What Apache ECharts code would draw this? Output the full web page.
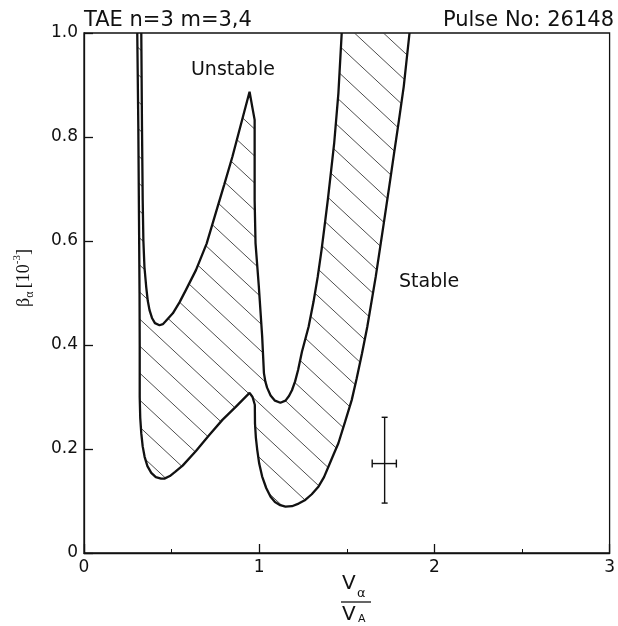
<!DOCTYPE html>
<html><head><meta charset="utf-8">
<script src="https://cdn.jsdelivr.net/npm/echarts@6/dist/echarts.min.js"></script>
<style>html,body{margin:0;padding:0;background:#fff}#c{width:618px;height:626px}</style>
</head><body><div id="c"></div>
<script>
// ---- data ----
const xTickValues = [0, 1, 2, 3];
const yTickValues = [0, 0.2, 0.4, 0.6, 0.8, 1.0];
const yTickLabels = ['0', '0.2', '0.4', '0.6', '0.8', '1.0'];

// lower (stable-side) boundary, from top-left to top-right
const lowerX = [0.304,0.310,0.314,0.317,0.318,0.318,0.321,0.327,0.335,0.346,0.362,0.384,0.410,0.440,0.459,0.490,0.520,0.563,0.639,0.715,0.790,0.866,0.904,0.945,0.962,0.975,0.976,0.981,0.989,1.000,1.017,1.040,1.065,1.090,1.120,1.150,1.187,1.225,1.263,1.300,1.339,1.370,1.395,1.425,1.452,1.490,1.528,1.556,1.587,1.617,1.665,1.711,1.742,1.770,1.798,1.825,1.858];
const lowerY = [1.000,0.820,0.640,0.500,0.400,0.300,0.260,0.230,0.205,0.185,0.167,0.154,0.146,0.143,0.143,0.148,0.156,0.168,0.196,0.227,0.256,0.281,0.294,0.308,0.300,0.285,0.249,0.222,0.198,0.172,0.147,0.125,0.108,0.098,0.092,0.089,0.090,0.095,0.102,0.113,0.128,0.146,0.166,0.190,0.211,0.252,0.294,0.335,0.384,0.435,0.531,0.634,0.704,0.769,0.833,0.897,1.000];

// upper (unstable-side) boundary, from top-left to top-right
const upperX = [0.327,0.331,0.335,0.339,0.345,0.355,0.364,0.374,0.388,0.405,0.431,0.450,0.467,0.507,0.545,0.582,0.639,0.700,0.762,0.800,0.847,0.894,0.945,0.962,0.974,0.974,0.974,0.979,0.998,1.017,1.027,1.035,1.045,1.065,1.090,1.121,1.150,1.170,1.187,1.205,1.222,1.244,1.282,1.310,1.334,1.356,1.374,1.392,1.411,1.428,1.452,1.471];
const upperY = [1.000,0.820,0.680,0.600,0.550,0.512,0.485,0.467,0.452,0.442,0.438,0.440,0.446,0.461,0.482,0.506,0.544,0.595,0.665,0.708,0.762,0.822,0.887,0.855,0.833,0.813,0.679,0.596,0.512,0.416,0.346,0.330,0.318,0.303,0.293,0.289,0.293,0.302,0.313,0.330,0.352,0.387,0.435,0.483,0.531,0.583,0.631,0.680,0.737,0.788,0.884,1.000];

// error bar
const errCenterX = [1.716];
const errCenterY = [0.172];
const errXLow = [1.645];
const errXHigh = [1.783];
const errYLow = [0.096];
const errYHigh = [0.261];

// annotations
const annText = ['Unstable', 'Stable'];
const annX = [0.85, 1.97];
const annY = [0.929, 0.521];

const titleLeftText = 'TAE n=3 m=3,4';
const titleRightText = 'Pulse No: 26148';

// ---- rendering ----
const INK = '#111111';
const SANS = '"DejaVu Sans", "Liberation Sans", Arial, sans-serif';
const SERIF = '"Liberation Serif", "Times New Roman", serif';

function makeHatch() {
  const w = 29, h = 27;
  const c = document.createElement('canvas');
  c.width = w; c.height = h;
  const g = c.getContext('2d');
  g.strokeStyle = '#3a3a3a';
  g.lineWidth = 0.9;
  for (const dy of [-h, 0, h]) {
    g.beginPath();
    g.moveTo(-2, dy - 2 * h / w);
    g.lineTo(w + 2, dy + h + 2 * h / w);
    g.stroke();
  }
  return c;
}
const hatch = makeHatch();

const chart = echarts.init(document.getElementById('c'), null, { renderer: 'canvas' });

const axisCommon = {
  type: 'value',
  axisLine: { show: true, lineStyle: { color: INK, width: 1.3 } },
  axisTick: { show: true, inside: true, length: 9, lineStyle: { color: INK, width: 1.3 } },
  splitLine: { show: false },
  axisLabel: { fontSize: 17, color: INK, fontFamily: SANS }
};

const option = {
  animation: false,
  backgroundColor: '#fff',
  title: [
    { text: titleLeftText, left: 84, top: 10, textStyle: { fontSize: 21, fontWeight: 'normal', color: INK, fontFamily: SANS }, padding: 0 },
    { text: titleRightText, right: 4, top: 10, textStyle: { fontSize: 21, fontWeight: 'normal', color: INK, fontFamily: SANS }, padding: 0 }
  ],
  grid: { left: 84, right: 5, top: 33, bottom: 73, show: true, borderColor: INK, borderWidth: 1.3, backgroundColor: 'transparent' },
  xAxis: Object.assign({}, axisCommon, {
    min: xTickValues[0], max: xTickValues[xTickValues.length - 1], interval: 1,
    minorTick: { show: true, splitNumber: 2, length: 4, lineStyle: { color: INK, width: 1 } },
    axisLabel: Object.assign({}, axisCommon.axisLabel, { margin: 6 })
  }),
  yAxis: Object.assign({}, axisCommon, {
    min: yTickValues[0], max: yTickValues[yTickValues.length - 1], interval: 0.2,
    axisLabel: Object.assign({}, axisCommon.axisLabel, {
      margin: 6,
      formatter: function (v) {
        const i = yTickValues.findIndex(t => Math.abs(t - v) < 1e-9);
        return i >= 0 ? yTickLabels[i] : '';
      }
    })
  }),
  graphic: [
    { type: 'text', x: 24, y: 278, rotation: Math.PI / 2,
      style: {
        text: '{b|β}{s|α} {b|[10}{p|-3}{b|]}',
        align: 'center', verticalAlign: 'middle', fill: INK,
        rich: {
          b: { fontSize: 18, fontFamily: SERIF, fill: INK, lineHeight: 24 },
          s: { fontSize: 12, fontFamily: SERIF, fill: INK, verticalAlign: 'bottom', lineHeight: 24 },
          p: { fontSize: 11, fontFamily: SERIF, fill: INK, verticalAlign: 'top', lineHeight: 24 }
        }
      } },
    { type: 'text', x: 342, y: 574, style: { text: 'V', fontSize: 20, fontFamily: SANS, fill: INK } },
    { type: 'text', x: 357, y: 587, style: { text: 'α', fontSize: 13, fontFamily: SANS, fill: INK } },
    { type: 'line', shape: { x1: 341, y1: 602, x2: 371, y2: 602 }, style: { stroke: INK, lineWidth: 1.3 } },
    { type: 'text', x: 342, y: 605, style: { text: 'V', fontSize: 20, fontFamily: SANS, fill: INK } },
    { type: 'text', x: 358, y: 614, style: { text: 'A', fontSize: 11, fontFamily: SANS, fill: INK } }
  ],
  series: [
    {
      type: 'custom', name: 'region', z: 2, clip: true,
      data: [[0, 0]],
      renderItem: function (params, api) {
        const pts = [];
        for (let i = 0; i < lowerX.length; i++) pts.push(api.coord([lowerX[i], lowerY[i]]));
        for (let i = upperX.length - 1; i >= 0; i--) pts.push(api.coord([upperX[i], upperY[i]]));
        return { type: 'polygon', shape: { points: pts }, style: { fill: { image: hatch, repeat: 'repeat' }, stroke: null } };
      }
    },
    {
      type: 'line', name: 'lower', z: 3, showSymbol: false, symbol: 'none', smooth: false,
      data: lowerX.map((x, i) => [x, lowerY[i]]),
      lineStyle: { color: INK, width: 2.3 }
    },
    {
      type: 'line', name: 'upper', z: 3, showSymbol: false, symbol: 'none', smooth: false,
      data: upperX.map((x, i) => [x, upperY[i]]),
      lineStyle: { color: INK, width: 2.3 }
    },
    {
      type: 'custom', name: 'errorbar', z: 4,
      data: errCenterX.map((x, i) => [x, errCenterY[i], errXLow[i], errXHigh[i], errYLow[i], errYHigh[i]]),
      renderItem: function (params, api) {
        const l = api.coord([api.value(2), api.value(1)]);
        const r = api.coord([api.value(3), api.value(1)]);
        const t = api.coord([api.value(0), api.value(5)]);
        const b = api.coord([api.value(0), api.value(4)]);
        const st = { stroke: INK, lineWidth: 1.4 };
        return { type: 'group', children: [
          { type: 'line', shape: { x1: l[0], y1: l[1], x2: r[0], y2: r[1] }, style: st },
          { type: 'line', shape: { x1: t[0], y1: t[1], x2: b[0], y2: b[1] }, style: st },
          { type: 'line', shape: { x1: l[0], y1: l[1] - 4, x2: l[0], y2: l[1] + 4 }, style: st },
          { type: 'line', shape: { x1: r[0], y1: r[1] - 4, x2: r[0], y2: r[1] + 4 }, style: st },
          { type: 'line', shape: { x1: t[0] - 3, y1: t[1], x2: t[0] + 3, y2: t[1] }, style: st },
          { type: 'line', shape: { x1: b[0] - 3, y1: b[1], x2: b[0] + 3, y2: b[1] }, style: st }
        ] };
      }
    },
    {
      type: 'custom', name: 'labels', z: 5,
      data: annX.map((x, i) => [x, annY[i], i]),
      renderItem: function (params, api) {
        const p = api.coord([api.value(0), api.value(1)]);
        return { type: 'text', x: p[0], y: p[1], style: { text: annText[api.value(2)], align: 'center', verticalAlign: 'middle', fontSize: 19, fontFamily: SANS, fill: INK } };
      }
    }
  ]
};
chart.setOption(option);
</script>
</body></html>
